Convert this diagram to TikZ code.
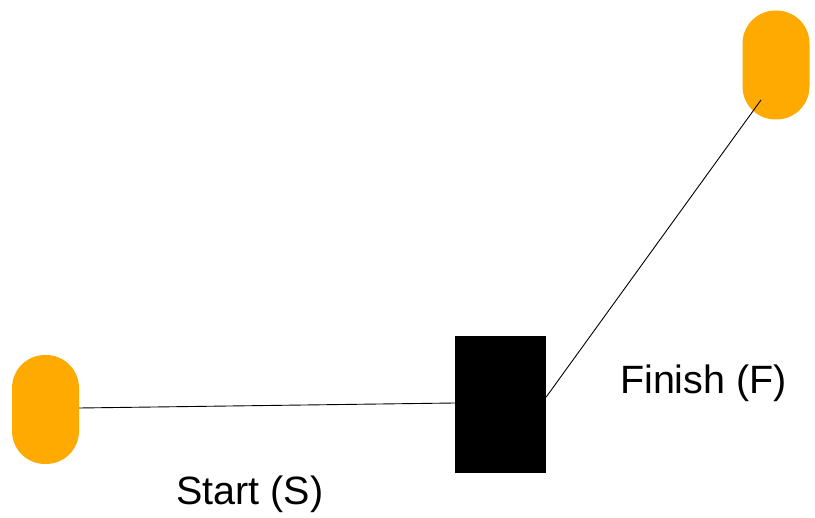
\documentclass[tikz,border=0pt]{standalone}
\usepackage{fontspec}
\setmainfont{Liberation Sans}
\definecolor{pillorange}{RGB}{255,170,0}
\begin{document}
\begin{tikzpicture}[x=1pt,y=-1pt,
  pill/.style={fill=pillorange,draw=none,rectangle,rounded corners=33pt,minimum width=67pt,minimum height=109pt,inner sep=0pt},
  blockbox/.style={fill=black,draw=none,rectangle,minimum width=91pt,minimum height=137pt,inner sep=0pt},
  conn/.style={draw=black,line width=0.9pt},
  lbl/.style={font=\fontsize{39.5}{42}\selectfont,inner sep=0pt,anchor=base}]
\useasboundingbox (0,0) rectangle (815,518);
\node[pill] (s) at (45.5,409.5) {};
\node[pill] (f) at (776,65) {};
\node[blockbox] (b) at (500.5,404.5) {};
\coordinate (fe) at ([xshift=-15pt,yshift=-35pt]f.center);
\draw[conn] ([yshift=1.5pt]s.east) -- ([yshift=1.5pt]b.west);
\draw[conn] ([yshift=7.5pt]b.east) -- (fe);
\node[lbl] (st) at (250,505) {Start (S)};
\node[lbl] (fi) at (703.5,394) {Finish (F)};
\end{tikzpicture}
\end{document}
